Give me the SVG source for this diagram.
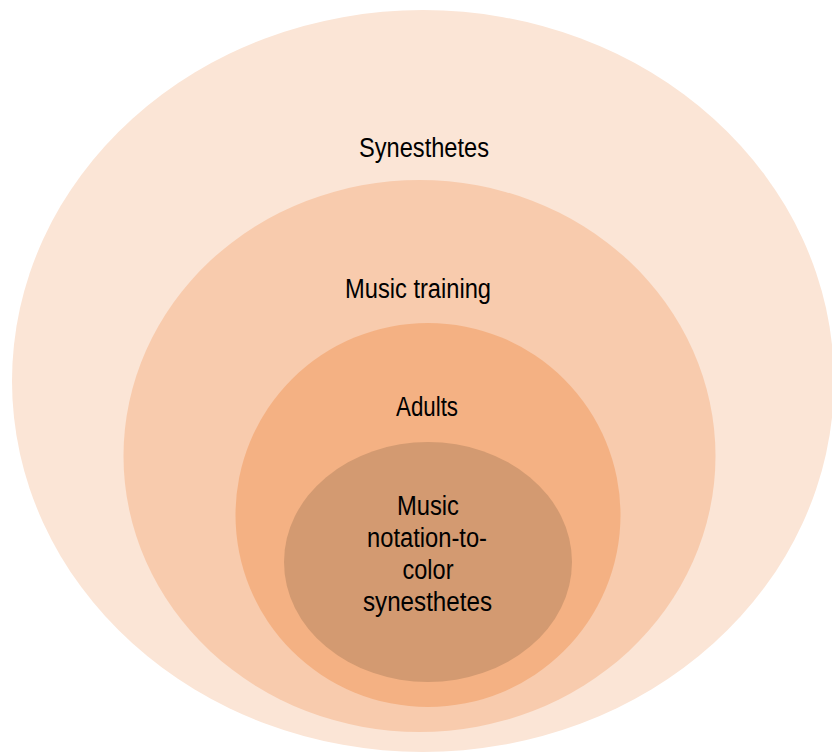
<svg xmlns="http://www.w3.org/2000/svg" width="832" height="753" viewBox="0 0 832 753">
  <style>
    .lbl { font-family: "Liberation Sans", Arial, sans-serif; font-size: 27px; fill: #000000; text-anchor: middle; }
  </style>
  <rect width="832" height="753" fill="#ffffff"/>
  <!-- Nested sets, outermost first -->
  <g id="synesthetes">
    <ellipse cx="423" cy="381" rx="411" ry="371" fill="#FBE5D6"/>
    <text class="lbl" x="424" y="157" textLength="130" lengthAdjust="spacingAndGlyphs">Synesthetes</text>
  </g>
  <g id="music-training">
    <ellipse cx="419.5" cy="456" rx="296" ry="276" fill="#F8CBAD"/>
    <text class="lbl" x="418" y="298" textLength="146" lengthAdjust="spacingAndGlyphs">Music training</text>
  </g>
  <g id="adults">
    <ellipse cx="428" cy="515" rx="192.5" ry="192" fill="#F4B183"/>
    <text class="lbl" x="427" y="416" textLength="62" lengthAdjust="spacingAndGlyphs">Adults</text>
  </g>
  <g id="notation-color-synesthetes">
    <ellipse cx="428" cy="562" rx="144" ry="120" fill="#D39A71"/>
    <text class="lbl" x="428" y="515" textLength="62" lengthAdjust="spacingAndGlyphs">Music</text>
    <text class="lbl" x="427" y="547" textLength="120" lengthAdjust="spacingAndGlyphs">notation-to-</text>
    <text class="lbl" x="428" y="579" textLength="51" lengthAdjust="spacingAndGlyphs">color</text>
    <text class="lbl" x="427.5" y="611" textLength="129" lengthAdjust="spacingAndGlyphs">synesthetes</text>
  </g>
  <g id="connectors"/>
</svg>
